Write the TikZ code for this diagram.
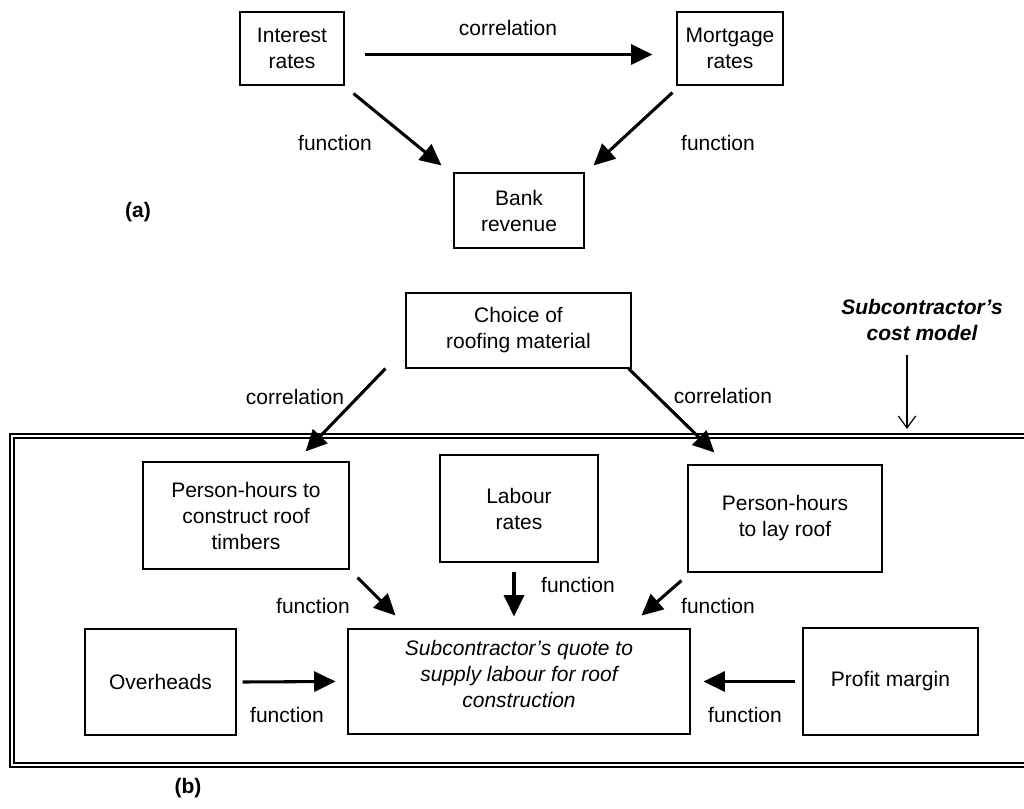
\documentclass[tikz,border=0pt]{standalone}
\usepackage{fontspec}
\setmainfont{Liberation Sans}
\usetikzlibrary{arrows.meta,calc}
\begin{document}
\begin{tikzpicture}[x=0.75pt,y=-0.75pt,
  every node/.style={font=\fontsize{15.75}{19.5}\selectfont, inner sep=0pt, align=center},
  box/.style 2 args={draw, line width=0.8pt, minimum width=#1*0.75pt, minimum height=#2*0.75pt},
  arr/.style={line width=2.3pt, -{Triangle[length=16pt,width=15pt]}},
  thinarr/.style={line width=0.9pt, -{Straight Barb[length=9pt,width=13pt,line width=0.9pt]}},
  lbl/.style={},
  tag/.style={font=\fontsize{15.75}{19.5}\selectfont\bfseries}]
\useasboundingbox (0,0) rectangle (1024,809);
\clip (0,0) rectangle (1024,809);

% ---------- (a) ----------
\node[box={104}{73}] (int)  at (292,48.5)  {Interest\\rates};
\node[box={106}{73}] (mort) at (730,48.5)  {Mortgage\\rates};
\node[box={130}{75}] (bank) at (519,210.5) {Bank\\revenue};

\draw[arr] ($(int.east)+(20,6)$) -- ($(mort.west)+(-24,6)$);
\draw[arr] ($(int.south east)+(9,8)$) -- ($(bank.north west)+(-12,-7)$);
\draw[arr] ($(mort.south west)+(-4,7)$) -- ($(bank.north east)+(9,-7)$);

\node[lbl] (corrA) at (508,28)  {correlation};
\node[lbl] (fnA1)  at (335,143) {function};
\node[lbl] (fnA2)  at (718,143) {function};
\node[tag] (taga)  at (138,212) {(a)};

% ---------- (b) ----------
% double frame of the cost model
\draw[line width=1pt] (10,434) rectangle (1040,767);
\draw[line width=1pt] (14,438) rectangle (1040,763);

\node[box={225}{75}]  (choice) at (518.5,330.5) {Choice of\\roofing material};
\node[box={206}{107}] (pht)    at (246,515.5)   {Person-hours to\\construct roof\\timbers};
\node[box={158}{107}] (labour) at (519,508.5)   {Labour\\rates};
\node[box={194}{107}] (phl)    at (785,518.5)   {Person-hours\\to lay roof};
\node[box={342}{105}, line width=2.2pt, text depth=12pt,
      font=\fontsize{15.75}{19.5}\selectfont\itshape] (quote) at (519,681.5)
  {Subcontractor’s quote to\\supply labour for roof\\construction};
\node[box={151}{106}] (over)   at (160.5,682)   {Overheads};
\node[box={175}{107}] (profit) at (890.5,681.5) {Profit margin};

\node[font=\fontsize{15.75}{19.5}\selectfont\bfseries\itshape] (cm) at (922,320)
  {Subcontractor’s\\cost model};
\coordinate (frametop) at (907,429);
\draw[thinarr] (cm.south -| frametop) ++(0,14) -- (frametop);

\draw[arr] ($(choice.south west)+(-20,0)$) -- ($(pht.north east)+(-44,-10)$);
\draw[arr] ($(choice.south east)+(-3,0)$) -- ($(phl.north west)+(27,-12)$);
\node[lbl] (corrB1) at (295,397) {correlation};
\node[lbl] (corrB2) at (723,396) {correlation};

\draw[arr] ($(pht.south east)+(8,8)$) -- ($(quote.north west)+(49,-12)$);
\draw[arr] ($(labour.south)+(-5,9)$) -- ($(quote.north)+(-5,-11)$);
\draw[arr] ($(phl.south west)+(-6,8)$) -- ($(quote.north east)+(-50,-12)$);
\draw[arr] ($(over.east)+(6,0)$) -- ($(quote.west)+(-11,0)$);
\draw[arr] ($(profit.west)+(-7,0)$) -- ($(quote.east)+(12,0)$);

\node[lbl] (fnB1) at (313,606) {function};
\node[lbl] (fnB2) at (578,585) {function};
\node[lbl] (fnB3) at (718,606) {function};
\node[lbl] (fnB4) at (287,715) {function};
\node[lbl] (fnB5) at (745,715) {function};
\node[tag] (tagb) at (188,788) {(b)};
\end{tikzpicture}
\end{document}
